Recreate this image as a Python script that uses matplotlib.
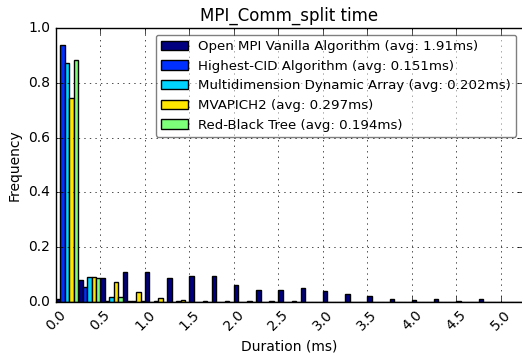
import numpy as np
import matplotlib
matplotlib.use("Agg")
import matplotlib.pyplot as plt

plt.style.use("classic")
plt.rcParams["font.size"] = 10

# bin edges (ms) and per-bin frequencies
bin_edges = np.arange(0, 5.5, 0.25)

vanilla = [0.012, 0.079, 0.086, 0.108, 0.110, 0.087, 0.096, 0.095, 0.063, 0.045,
           0.043, 0.051, 0.039, 0.030, 0.021, 0.012, 0.008, 0.010, 0.005, 0.010, 0.0]
highest_cid = [0.937, 0.055, 0.003, 0.003, 0.0, 0.0, 0.0, 0.0, 0.0, 0.0,
               0.0, 0.0, 0.0, 0.0, 0.0, 0.0, 0.0, 0.0, 0.0, 0.0, 0.0]
multidim = [0.873, 0.091, 0.020, 0.002, 0.003, 0.004, 0.0, 0.0, 0.0, 0.0,
            0.0, 0.0, 0.0, 0.0, 0.0, 0.0, 0.0, 0.0, 0.0, 0.0, 0.0]
mvapich = [0.745, 0.091, 0.074, 0.036, 0.015, 0.006, 0.005, 0.004, 0.003, 0.003,
           0.003, 0.0, 0.0, 0.0, 0.0, 0.0, 0.0, 0.0, 0.0, 0.0, 0.0]
rbtree = [0.885, 0.088, 0.017, 0.002, 0.0, 0.0, 0.0, 0.0, 0.0, 0.0,
          0.0, 0.0, 0.0, 0.0, 0.0, 0.0, 0.0, 0.0, 0.0, 0.0, 0.0]

labels = ["Open MPI Vanilla Algorithm (avg: 1.91ms)",
          "Highest-CID Algorithm (avg: 0.151ms)",
          "Multidimension Dynamic Array (avg: 0.202ms)",
          "MVAPICH2 (avg: 0.297ms)",
          "Red-Black Tree (avg: 0.194ms)"]
colors = ["#000080", "#0030ff", "#00d4ff", "#ffe600", "#7dff7a"]

centers = (bin_edges[:-1] + bin_edges[1:]) / 2.0
series = [vanilla, highest_cid, multidim, mvapich, rbtree]

fig = plt.figure(figsize=(5.22, 3.56), dpi=100)
ax = fig.add_axes([56/522., 54/356., 467/522., 274/356.])

ax.hist([centers] * len(series), bins=bin_edges, weights=series,
        color=colors, label=labels, rwidth=1.0)

ax.set_xlim(0, 5.25)
ax.set_ylim(0, 1.0)
ax.set_xticks(np.arange(0, 5.01, 0.5))
ax.set_xticklabels(["%.1f" % v for v in np.arange(0, 5.01, 0.5)], rotation=45)
ax.set_yticks(np.arange(0, 1.01, 0.2))
ax.grid(True)

ax.set_title("MPI_Comm_split time", fontsize=12)
ax.set_xlabel("Duration (ms)")
ax.set_ylabel("Frequency")
ax.legend(loc="upper right", fontsize=9.6, fancybox=True, framealpha=0.5)

fig.savefig("out.png", dpi=100)
